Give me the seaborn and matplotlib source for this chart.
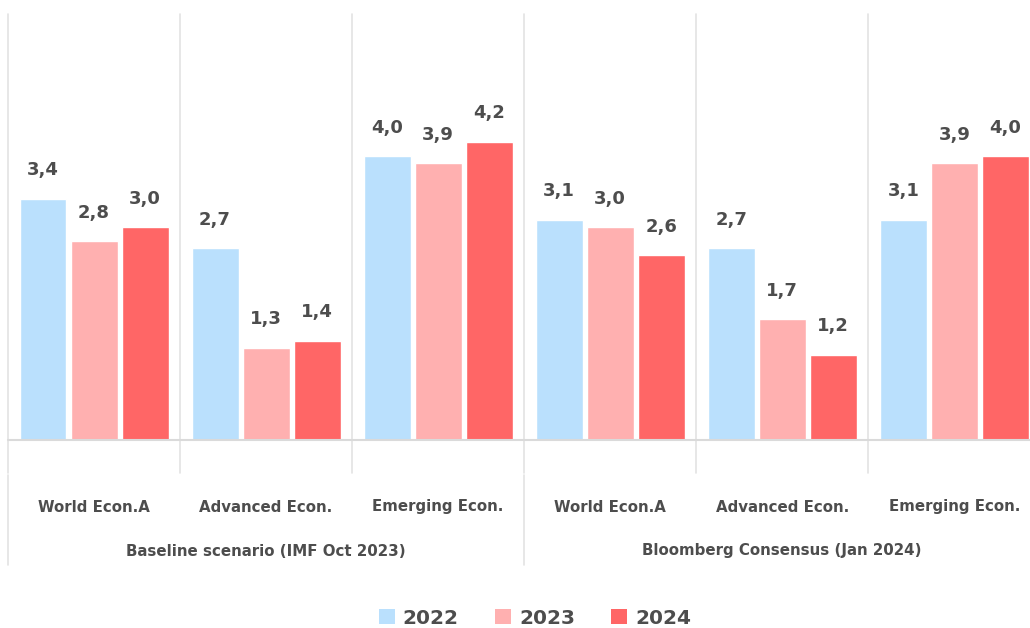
import pandas as pd
import seaborn as sns
import matplotlib.pyplot as plt
from matplotlib.patches import Patch

# dados
categorias = ["World Econ.A", "Advanced Econ.", "Emerging Econ.",
              "World Econ.A", "Advanced Econ.", "Emerging Econ."]
grupos = ["Baseline scenario (IMF Oct 2023)", "Bloomberg Consensus (Jan 2024)"]
anos = ["2022", "2023", "2024"]
v2022 = [3.4, 2.7, 4.0, 3.1, 2.7, 3.1]
v2023 = [2.8, 1.3, 3.9, 3.0, 1.7, 3.9]
v2024 = [3.0, 1.4, 4.2, 2.6, 1.2, 4.0]

cores = ["#BAE0FD", "#FFB0B0", "#FF6666"]
cor_texto = "#4d4d4d"
cor_linha = "#e3e3e3"

# montar dataframe longo
chaves = [str(i) for i in range(len(categorias))]
df = pd.DataFrame({
    "pos": chaves * 3,
    "ano": [a for a in anos for _ in chaves],
    "valor": v2022 + v2023 + v2024,
})

sns.set_style("white")
plt.rcParams["font.family"] = ["DejaVu Sans"]

fig = plt.figure(figsize=(10.30, 6.28), dpi=100)
ax = fig.add_axes([8 / 1030, 1 - 440 / 628, 1022 / 1030, 426 / 628])

sns.barplot(data=df, x="pos", y="valor", hue="ano", order=chaves,
            palette=cores, width=0.89, gap=0.08, saturation=1,
            legend=False, ax=ax)

ax.set_xlim(-0.5, 5.44)
ax.set_ylim(0, 6.0)
ax.set_xticks([])
ax.set_yticks([])
ax.set_xlabel("")
ax.set_ylabel("")
for s in ax.spines.values():
    s.set_visible(False)

# rótulos de valor
for cont in ax.containers:
    labels = [f"{b.get_height():.1f}".replace(".", ",") for b in cont]
    ax.bar_label(cont, labels=labels, padding=14, fontsize=13,
                 fontweight="bold", color=cor_texto)

# linhas verticais entre categorias (prolongadas abaixo do eixo)
px_y = 426 / 6.0
y_baixo = -(473 - 440) / px_y
for i in range(len(categorias)):
    ax.plot([i - 0.5, i - 0.5], [y_baixo, 6.0], color=cor_linha, lw=1.2,
            clip_on=False, zorder=0)
ax.plot([-0.5, 5.44], [0, 0], color="#dadada", lw=1.5, clip_on=False, zorder=3)

# linhas entre grupos
y_g1 = -(475 - 440) / px_y
y_g2 = -(565 - 440) / px_y
for x in [-0.5, 2.5]:
    ax.plot([x, x], [y_g1, y_g2], color=cor_linha, lw=1.2, clip_on=False)

# rótulos das categorias e grupos
y_cat = -(507 - 440) / px_y
for i, c in enumerate(categorias):
    ax.text(i, y_cat, c, ha="center", va="center", fontsize=10.8,
            fontweight="bold", color=cor_texto)
y_grp = -(551 - 440) / px_y
for j, g in enumerate(grupos):
    ax.text(1 + 3 * j, y_grp, g, ha="center", va="center", fontsize=10.8,
            fontweight="bold", color=cor_texto)

# legenda
handles = [Patch(facecolor=c, edgecolor="none") for c in cores]
fig.legend(handles, anos, loc="center", bbox_to_anchor=(535 / 1030, 1 - 618 / 628),
           ncol=3, frameon=False, prop={"weight": "bold", "size": 14.5},
           handlelength=0.8, handleheight=0.8, handletextpad=0.4, columnspacing=1.8,
           labelcolor=cor_texto)

fig.savefig("out.png", dpi=100)
